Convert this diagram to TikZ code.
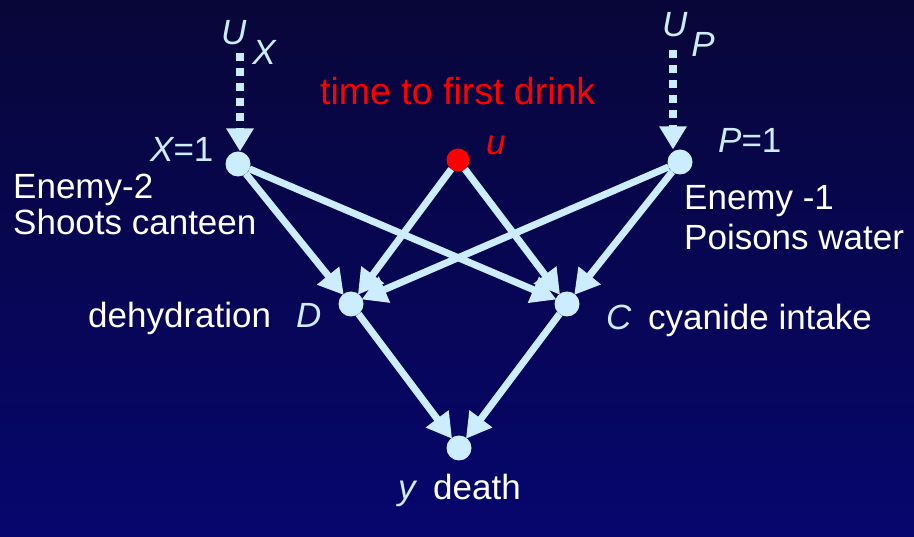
\documentclass[tikz,border=0pt]{standalone}
\usepackage{fontspec}
\setmainfont{Liberation Sans}
\usetikzlibrary{arrows.meta}
\definecolor{lb}{RGB}{204,236,255}
\definecolor{bgtop}{RGB}{8,6,56}
\definecolor{bgbot}{RGB}{6,6,110}
\definecolor{rd}{RGB}{255,0,0}
\tikzset{
  dot/.style={circle,fill=lb,minimum size=25pt,inner sep=0pt,outer sep=0pt},
  reddot/.style={circle,fill=rd,minimum size=23pt,inner sep=0pt,outer sep=0pt},
  edge/.style={draw=lb,line width=7pt,-{Triangle[width=27pt,length=25pt]},shorten >=-1pt},
  dotline/.style={draw=lb,line width=8pt,dash pattern=on 8pt off 7pt,-{Triangle[width=26pt,length=23pt]}},
  lbl/.style={anchor=base west,inner sep=0pt,text=white,font=\fontsize{35}{42}\selectfont},
  ilbl/.style={anchor=base west,inner sep=0pt,text=lb,font=\fontsize{35}{42}\selectfont\itshape},
}
\begin{document}
\begin{tikzpicture}[x=1pt,y=-1pt]
\useasboundingbox (0,0) rectangle (914,537);
\shade[top color=bgtop,bottom color=bgbot] (0,0) rectangle (914,537);

% nodes
\node[dot] (X) at (238,164) {};
\node[reddot] (u) at (458,160) {};
\node[dot] (P) at (680,162) {};
\node[dot] (D) at (351,304) {};
\node[dot] (C) at (567,304) {};
\node[dot] (y) at (459,448) {};

% exogenous
\coordinate (UXs) at (240,53);
\coordinate (UPs) at (673,50);
\draw[dotline] (UXs) -- (UXs |- X.north);
\draw[dotline] (UPs) -- (UPs |- P.north);

% edges
\draw[edge] (X) -- (D);
\draw[edge] (X) -- (C);
\draw[edge] (u) -- (D);
\draw[edge] (u) -- (C);
\draw[edge] (P) -- (D);
\draw[edge] (P) -- (C);
\draw[edge] (D) -- (y);
\draw[edge] (C) -- (y);

% labels
\node[ilbl] (lux) at (221,45) {U\raisebox{-20pt}{\hspace{6pt}X}};
\node[ilbl] (lup) at (662,37) {U\raisebox{-20pt}{\hspace{4pt}P}};
\node[lbl,text=rd,font=\fontsize{37.5}{44}\selectfont] (ltime) at (320,105) {time to first drink};
\node[ilbl,text=rd] (lu) at (486,155) {u};
\node[ilbl] (lx) at (150,162) {X\upshape=1};
\node[ilbl] (lp) at (718,153) {P\upshape=1};
\node[lbl] (le2) at (13,199) {Enemy-2};
\node[lbl] (ls) at (13,235) {Shoots canteen};
\node[lbl] (le1) at (684,210) {Enemy -1};
\node[lbl] (lpw) at (684,250) {Poisons water};
\node[lbl] (ldeh) at (88,328) {dehydration};
\node[ilbl] (ld) at (296,328) {D};
\node[ilbl] (lc) at (606,330) {C};
\node[lbl] (lcy) at (648,330) {cyanide intake};
\node[ilbl] (ly) at (398,500) {y};
\node[lbl] (ldeath) at (433,500) {death};
\end{tikzpicture}
\end{document}
